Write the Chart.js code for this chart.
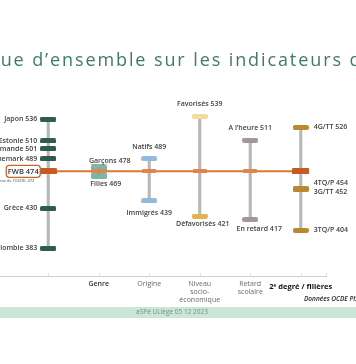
<!DOCTYPE html>
<html lang="fr">
<head>
<meta charset="utf-8">
<script src="https://cdn.jsdelivr.net/npm/chart.js@4/dist/chart.umd.min.js"></script>
<style>
html,body{margin:0;padding:0;width:356px;height:364px;overflow:hidden;background:#fff;}
#wrap{position:relative;width:356px;height:364px;overflow:hidden;}
#c{position:absolute;left:0;top:0;}
.title{position:absolute;left:-12px;top:50px;font:18px 'Open Sans',sans-serif;line-height:18px;letter-spacing:1.9px;color:#3d7d5e;white-space:nowrap;z-index:2;}
.band{position:absolute;left:0;top:307px;width:356px;height:11px;background:#cbe5d9;z-index:1;}
.bandtext{position:absolute;left:-6px;width:356px;top:307px;height:11px;line-height:11px;text-align:center;font:6.5px 'Open Sans',sans-serif;color:#6f9383;z-index:2;white-space:nowrap;}
.source{position:absolute;left:304px;top:294px;font:italic 600 6.5px 'Open Sans',sans-serif;color:#222;white-space:nowrap;z-index:2;}
</style>
</head>
<body>
<div id="wrap">
  <canvas id="c" width="356" height="364"></canvas>
  <div class="title">Vue d’ensemble sur les indicateurs d’équité</div>
  <div class="source">Données OCDE PISA 2022</div>
  <div class="band"></div>
  <div class="bandtext">aSPé ULiège 05 12 2023</div>
</div>
<script>
// ---- DATA ----
const categories = ['Pays', 'Genre', 'Origine', 'Niveau', 'Retard', 'Filieres'];
const tickLabels = ['', 'Genre', 'Origine', ['Niveau', 'socio-', 'économique'], ['Retard', 'scolaire'], '2ᵉ degré / filières'];

const countryNames  = ['Japon', 'Estonie', 'Communauté flamande', 'Danemark', 'Grèce', 'Colombie'];
const countryScores = [536, 510, 501, 489, 430, 383];

const fwbScores = [474, 474, 474, 474, 474, 474];
const oecdMean = 472;

const genreNames   = ['Garçons', 'Filles'];
const genreScores  = [478, 469];
const origineNames = ['Natifs', 'Immigrés'];
const origineScores = [489, 439];
const niveauNames  = ['Favorisés', 'Défavorisés'];
const niveauScores = [539, 421];
const retardNames  = ['A l’heure', 'En retard'];
const retardScores = [511, 417];
const filiereNames  = ['4G/TT', '4TQ/P', '3G/TT', '3TQ/P'];
const filiereScores = [526, 454, 452, 404];

// ---- helpers ----
const groups = [countryScores, genreScores, origineScores, niveauScores, retardScores, filiereScores];
const ranges = groups.map(g => [Math.min(...g), Math.max(...g)]);
const pts = (cat, scores) => scores.map(v => ({x: cat, y: v}));
const lbl = (names, scores) => names.map((n, i) => n + ' ' + scores[i]);

function marker(color, w, h, r) {
  const c = document.createElement('canvas');
  c.width = w; c.height = h;
  const g = c.getContext('2d');
  g.fillStyle = color;
  g.beginPath();
  if (g.roundRect) g.roundRect(0, 0, w, h, r); else g.rect(0, 0, w, h);
  g.fill();
  return c;
}
const mCountry = marker('#2f5c4f', 16, 5, 1.5);
const mGenre = marker('rgba(112,172,152,0.88)', 16, 7, 1.5);
const mOrigine = marker('#93b9dd', 16, 5, 2);
const mNiveau = [marker('#f3da9e', 16, 5, 2), marker('#e2b24c', 16, 5, 2)];
const mRetard = marker('#a69797', 16, 5, 2);
const mFiliere = marker('#b8892f', 16, 5, 2);
const mFwbBig = marker('#c65a22', 17, 6, 1);
const mFwbSmall = marker('#e0854c', 14, 4, 1);

const FONT = "'Open Sans', sans-serif";

const labelPlugin = {
  id: 'pointLabels',
  afterDatasetsDraw(chart) {
    const ctx = chart.ctx;
    chart.data.datasets.forEach((ds, di) => {
      if (!ds.pointLabels) return;
      const meta = chart.getDatasetMeta(di);
      meta.data.forEach((pt, i) => {
        const txt = ds.pointLabels[i];
        const dy = ds.labelDy ? ds.labelDy[i] : 0;
        const dx = ds.labelDx ? ds.labelDx[i] : 0;
        ctx.save();
        ctx.font = '600 7px ' + FONT;
        ctx.fillStyle = '#404040';
        ctx.textBaseline = 'middle';
        let x = pt.x + dx, y = pt.y + dy;
        if (ds.labelSide === 'left') { ctx.textAlign = 'right'; x -= 11; }
        else if (ds.labelSide === 'right') { ctx.textAlign = 'left'; x += 13; }
        else ctx.textAlign = 'center';
        ctx.fillText(txt, x, y);
        ctx.restore();
      });
    });
  }
};

const decoPlugin = {
  id: 'deco',
  beforeDatasetsDraw(chart) {
    const ctx = chart.ctx, a = chart.chartArea, xs = chart.scales.x;
    ctx.save();
    ctx.strokeStyle = '#cfcfcf';
    ctx.lineWidth = 1;
    ctx.beginPath();
    ctx.moveTo(0, a.bottom + 0.5);
    ctx.lineTo(a.right + 1, a.bottom + 0.5);
    ctx.stroke();
    ctx.strokeStyle = '#e2e2e2';
    for (let i = 0; i < categories.length; i++) {
      const px = Math.round(xs.getPixelForValue(i)) + 0.5;
      ctx.beginPath(); ctx.moveTo(px, a.bottom - 3); ctx.lineTo(px, a.bottom); ctx.stroke();
    }
    ctx.beginPath(); ctx.moveTo(a.right + 0.5, a.bottom - 3); ctx.lineTo(a.right + 0.5, a.bottom); ctx.stroke();
    ctx.restore();
  },
  afterDatasetsDraw(chart) {
    const ctx = chart.ctx;
    const meta = chart.getDatasetMeta(chart.data.datasets.findIndex(d => d.id === 'fwbMarks'));
    const p = meta.data[0];
    ctx.save();
    ctx.strokeStyle = '#c8642e';
    ctx.lineWidth = 1.3;
    ctx.fillStyle = '#fff';
    ctx.beginPath();
    ctx.roundRect(p.x - 42, p.y - 6, 34, 12, 3);
    ctx.fill(); ctx.stroke();
    ctx.fillStyle = '#333';
    ctx.font = '600 7.5px ' + FONT;
    ctx.textAlign = 'center'; ctx.textBaseline = 'middle';
    ctx.fillText('FWB ' + fwbScores[0], p.x - 25, p.y + 0.5);
    ctx.font = '4px ' + FONT;
    ctx.textAlign = 'right';
    ctx.fillStyle = '#444';
    ctx.fillText('Moyenne de l’OCDE: ' + oecdMean, p.x - 14, p.y + 10);
    ctx.restore();
  }
};

new Chart(document.getElementById('c'), {
  type: 'bar',
  data: {
    labels: categories,
    datasets: [
      { type: 'bar', data: ranges, backgroundColor: '#b8b8b8', barThickness: 2.5, order: 10 },
      { id: 'fwbMarks', type: 'line', data: fwbScores, showLine: false, pointRadius: 8,
        pointStyle: (c) => (c.dataIndex === 0 || c.dataIndex === 5) ? mFwbBig : mFwbSmall, order: 0 },
      { type: 'line', data: fwbScores, borderColor: '#d8773c', borderWidth: 2, pointRadius: 0, order: 4 },
      { type: 'line', data: pts('Pays', countryScores), showLine: false, pointRadius: 8, pointStyle: mCountry,
        pointLabels: lbl(countryNames, countryScores), labelSide: 'left', order: 6 },
      { type: 'line', data: pts('Genre', genreScores), showLine: false, pointRadius: 8, pointStyle: mGenre,
        pointLabels: lbl(genreNames, genreScores), labelSide: 'center', labelDy: [-7, 8], labelDx: [11, 7], order: 5 },
      { type: 'line', data: pts('Origine', origineScores), showLine: false, pointRadius: 8, pointStyle: mOrigine,
        pointLabels: lbl(origineNames, origineScores), labelSide: 'center', labelDy: [-12, 12], order: 6 },
      { type: 'line', data: pts('Niveau', niveauScores), showLine: false, pointRadius: 8,
        pointStyle: (c) => mNiveau[c.dataIndex],
        pointLabels: lbl(niveauNames, niveauScores), labelSide: 'center', labelDy: [-12, 8], labelDx: [0, 3], order: 6 },
      { type: 'line', data: pts('Retard', retardScores), showLine: false, pointRadius: 8, pointStyle: mRetard,
        pointLabels: lbl(retardNames, retardScores), labelSide: 'center', labelDy: [-12, 10], labelDx: [0, 9], order: 6 },
      { type: 'line', data: pts('Filieres', filiereScores), showLine: false, pointRadius: 8, pointStyle: mFiliere,
        pointLabels: lbl(filiereNames, filiereScores), labelSide: 'right', labelDy: [0, -5, 2, 0], order: 6 }
    ]
  },
  options: {
    responsive: false,
    animation: false,
    events: [],
    devicePixelRatio: 1,
    layout: { padding: { left: 23, right: 30, top: 65, bottom: 0 } },
    plugins: { legend: { display: false }, tooltip: { enabled: false } },
    scales: {
      x: {
        type: 'category',
        offset: true,
        grid: { display: false, drawTicks: false },
        border: { display: false },
        ticks: {
          autoSkip: false, maxRotation: 0, minRotation: 0, padding: 4,
          callback: (v, i) => tickLabels[i],
          color: (c) => c.index === 5 ? '#111' : (c.index === 1 ? '#333' : '#6a6a6a'),
          font: (c) => c.index === 5 ? { family: FONT, size: 7.5, weight: 'bold', lineHeight: 1.8 }
                                     : { family: FONT, size: 7, weight: c.index === 1 ? '600' : 'normal', lineHeight: 1.12 }
        },
        afterFit: (s) => { s.height = 88; s.paddingLeft = 0; s.paddingRight = 0; }
      },
      y: { display: false, min: 350, max: 600 }
    }
  },
  plugins: [decoPlugin, labelPlugin]
});
</script>
</body>
</html>
